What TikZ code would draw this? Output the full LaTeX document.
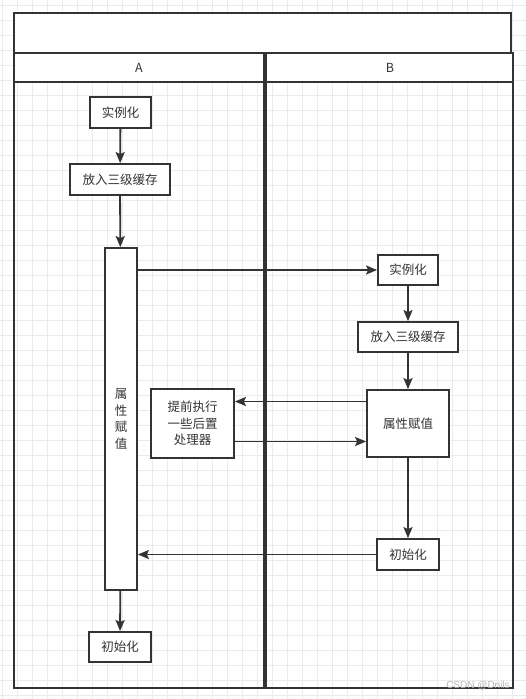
\documentclass[tikz,border=0pt]{standalone}
\usepackage{fontspec}
\newfontfamily\cjk{Noto Sans CJK SC}
\usetikzlibrary{arrows.meta,calc}
\definecolor{ln}{HTML}{333333}
\definecolor{gridc}{HTML}{EBEBEB}
\begin{document}
\begin{tikzpicture}[x=1pt,y=-1pt,
  box/.style={draw=ln,line width=1.8pt,fill=white,inner sep=0pt,text=ln,align=center,
    font=\cjk\fontsize{12.5}{16.5}\selectfont},
  arr/.style={draw=ln,line width=1.8pt,-{Stealth[length=11pt,width=9pt,inset=2pt]}},
  lane/.style={draw=ln,line width=2pt},
  hdr/.style={text=ln,font=\cjk\fontsize{12.5}{15}\selectfont}]
% background and grid
\fill[white] (0,0) rectangle (526,699);
\useasboundingbox (0,0) rectangle (526,699);
\foreach \x in {2,17,...,527} \draw[gridc,line width=0.8pt] (\x,0) -- (\x,699);
\foreach \y in {5,20,...,699} \draw[gridc,line width=0.8pt] (0,\y) -- (526,\y);
% pool
\draw[lane,fill=white] (14,13) rectangle (511,53);
\draw[lane,fill=white] (14,53) rectangle (264,82);
\draw[lane] (14,82) rectangle (264,688);
\draw[lane,fill=white] (266,53) rectangle (513,82);
\draw[lane] (266,82) rectangle (513,688);
\node[hdr] (la) at (139,68) {A};
\node[hdr] (lb) at (390,68) {B};
% lane A
\node[box,minimum width=61pt,minimum height=31pt] (a1) at (120.5,112.5) {实例化};
\node[box,minimum width=100pt,minimum height=31pt] (a2) at (120,179.5) {放入三级缓存};
\node[box,minimum width=32pt,minimum height=342pt] (tall) at (121,419) {属\\性\\赋\\值};
\node[box,minimum width=62pt,minimum height=30pt] (a3) at (120,647) {初始化};
\node[box,minimum width=83pt,minimum height=69pt] (pre) at (192.5,423.5) {提前执行\\一些后置\\处理器};
% lane B
\node[box,minimum width=60pt,minimum height=30pt] (b1) at (408,270) {实例化};
\node[box,minimum width=100pt,minimum height=30pt] (b2) at (408,337) {放入三级缓存};
\node[box,minimum width=82pt,minimum height=67pt] (b3) at (408,423.5) {属性赋值};
\node[box,minimum width=62pt,minimum height=31pt] (b4) at (408,554.5) {初始化};
% edges
\draw[arr] (a1) -- (a2);
\draw[arr] (a2) -- (tall);
\draw[arr] (tall.east |- b1.west) -- (b1.west);
\draw[arr] (b1) -- (b2);
\draw[arr] (b2) -- (b3);
\draw[arr] ([yshift=22pt]b3.west) -- ([yshift=22pt]pre.east);
\draw[arr] ([yshift=-18pt]pre.east) -- ([yshift=-18pt]b3.west);
\draw[arr] (b3) -- (b4);
\draw[arr] (b4.west) -- (tall.east |- b4.west);
\draw[arr] (tall) -- (a3);
% watermark
\node[text=black!28,font=\fontspec{Liberation Sans}\fontsize{10}{12}\selectfont] (wm) at (478,686) {CSDN @Dnils};
\end{tikzpicture}
\end{document}
